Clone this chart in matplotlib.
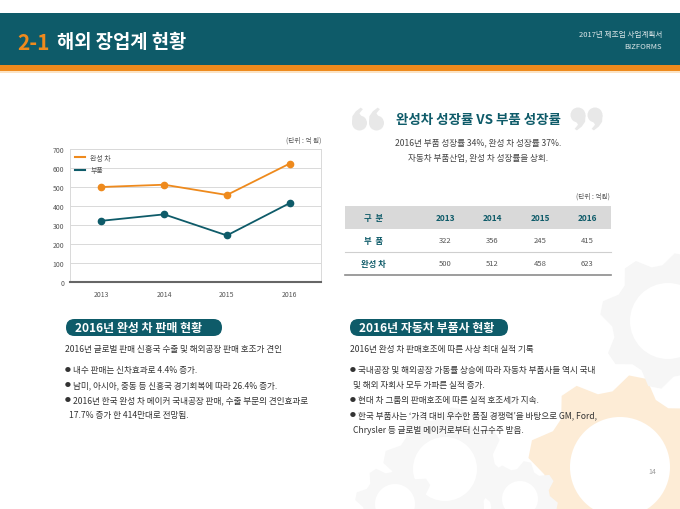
import numpy as np
import matplotlib
matplotlib.use("Agg")
import matplotlib.pyplot as plt
from matplotlib.patches import Rectangle, FancyBboxPatch, Polygon, Circle
from matplotlib.lines import Line2D

plt.rcParams['font.family'] = ['Noto Sans CJK KR', 'DejaVu Sans']

# 데이터
years = ['2013', '2014', '2015', '2016']
parts = [322, 356, 245, 415]        # 부품
finished = [500, 512, 458, 623]     # 완성 차

TEAL = '#0e5b69'
ORANGE = '#ee8a1d'
GRAY_TXT = '#444444'

W, H = 680, 510
fig = plt.figure(figsize=(6.8, 5.1), dpi=100)

# 배경 (픽셀 좌표계)
bg = fig.add_axes([0, 0, 1, 1])
bg.set_xlim(0, W)
bg.set_ylim(H, 0)
bg.axis('off')


def gear(ax, cx, cy, r_out, r_in, r_hole, n, color):
    # 톱니바퀴 모양 (장식용)
    ang = np.linspace(0, 2 * np.pi, n * 4, endpoint=False)
    rr = np.array([r_out, r_out, r_in, r_in] * n)
    ang = ang + np.pi / (4 * n)
    pts = np.column_stack([cx + rr * np.cos(ang), cy + rr * np.sin(ang)])
    ax.add_patch(Polygon(pts, closed=True, color=color, lw=0, zorder=0))
    ax.add_patch(Circle((cx, cy), r_hole, color='white', lw=0, zorder=0))


def quote_mark(ax, cx, cy, r, flip, color):
    # 따옴표 한 획 (원 + 꼬리), flip=True 이면 닫는 따옴표
    s = -1 if flip else 1
    tail = [(-r, 0), (-r * 0.95, -r * 0.9), (-r * 0.5, -r * 1.55),
            (r * 0.15, -r * 2.05), (r * 0.45, -r * 1.85), (0, -r * 1.3), (r * 0.2, -r * 0.95)]
    pts = [(cx + s * dx, cy + s * dy) for dx, dy in tail]
    ax.add_patch(Polygon(pts, closed=True, color=color, lw=0, zorder=1))
    ax.add_patch(Circle((cx, cy), r, color=color, lw=0, zorder=1))


gear(bg, 620, 468, 92, 76, 50, 8, '#fdecd6')
gear(bg, 668, 322, 68, 56, 38, 8, '#f6f6f6')
gear(bg, 445, 470, 62, 50, 32, 8, '#f7f7f7')
gear(bg, 395, 505, 40, 32, 20, 8, '#f7f7f7')
gear(bg, 520, 500, 38, 30, 18, 8, '#f7f7f7')

# 헤더
bg.add_patch(Rectangle((0, 14), W, 52, color=TEAL, lw=0))
bg.add_patch(Rectangle((0, 66), W, 6, color=ORANGE, lw=0))
bg.add_patch(Rectangle((0, 72), W, 2, color='#fbe3c4', lw=0))
bg.text(17, 43, '2-1', color=ORANGE, fontsize=15, fontweight='bold', va='center')
bg.text(57, 43, '해외 장업계 현황', color='white', fontsize=13.5, fontweight='bold', va='center')
bg.text(662, 35, '2017년 제조업 사업계획서', color='#dfe8ea', fontsize=5.5, ha='right', va='center')
bg.text(662, 47, 'BIZFORMS', color='#dfe8ea', fontsize=5.5, ha='right', va='center')

# 오른쪽 상단 제목
QCOL = '#e8e8e8'
quote_mark(bg, 359.5, 124, 7.5, False, QCOL)
quote_mark(bg, 376.5, 124, 7.5, False, QCOL)
quote_mark(bg, 578, 116, 7.5, True, QCOL)
quote_mark(bg, 595, 116, 7.5, True, QCOL)
bg.text(478, 120, '완성차 성장률 VS 부품 성장률', color=TEAL, fontsize=9.7, fontweight='bold',
        ha='center', va='center')
bg.text(478, 143, '2016년 부품 성장률 34%, 완성 차 성장률 37%.', color=GRAY_TXT, fontsize=6.2,
        ha='center', va='center')
bg.text(478, 158, '자동차 부품산업, 완성 차 성장률을 상회.', color=GRAY_TXT, fontsize=6.2,
        ha='center', va='center')

# 표
bg.text(610, 197, '(단위 : 억원)', color='#555555', fontsize=4.8, ha='right', va='center')
tx0, tx1 = 345, 611
bg.add_patch(Rectangle((tx0, 207), tx1 - tx0, 23, color='#d9d9d9', lw=0))
bg.plot([tx0, tx1], [253, 253], color='#cfcfcf', lw=0.8)
bg.plot([tx0, tx1], [276, 276], color='#8c8c8c', lw=1.2)
col_x = [373, 445, 492, 540, 587]
bg.text(col_x[0], 218.5, '구  분', color=TEAL, fontsize=6, fontweight='bold', ha='center', va='center')
for cx, yr in zip(col_x[1:], years):
    bg.text(cx, 218.5, yr, color=TEAL, fontsize=6, fontweight='bold', ha='center', va='center')
bg.text(col_x[0], 241.5, '부  품', color=TEAL, fontsize=6, fontweight='bold', ha='center', va='center')
bg.text(col_x[0], 264.5, '완성 차', color=TEAL, fontsize=6, fontweight='bold', ha='center', va='center')
for cx, p, f in zip(col_x[1:], parts, finished):
    bg.text(cx, 241.5, str(p), color='#555555', fontsize=5.5, ha='center', va='center')
    bg.text(cx, 264.5, str(f), color='#555555', fontsize=5.5, ha='center', va='center')

# 하단 섹션
for x0, w, title in [(66, 156, '2016년 완성 차 판매 현황'), (350, 158, '2016년 자동차 부품사 현황')]:
    bg.add_patch(FancyBboxPatch((x0, 320), w, 17,
                                boxstyle='round,pad=0,rounding_size=8.5',
                                color=TEAL, lw=0))
    bg.text(x0 + 9, 328.5, title, color='white', fontsize=8.6, fontweight='bold', va='center')

# (x, y, 글머리표 여부, 문장)
left_lines = [
    (65, 350, False, '2016년 글로벌 판매 신흥국 수출 및 해외공장 판매 호조가 견인'),
    (65, 371, True, '내수 판매는 신차효과로 4.4% 증가.'),
    (65, 386, True, '남미, 아시아, 중동 등 신흥국 경기회복에 따라 26.4% 증가.'),
    (65, 401, True, '2016년 한국 완성 차 메이커 국내공장 판매, 수출 부문의 견인효과로'),
    (69, 416, False, '17.7% 증가 한 414만대로 전망됨.'),
]
right_lines = [
    (350, 350, False, '2016년 완성 차 판매호조에 따른 사상 최대 실적 기록'),
    (350, 371, True, '국내공장 및 해외공장 가동률 상승에 따라 자동차 부품사들 역시 국내'),
    (353, 386, False, '및 해외 자회사 모두 가파른 실적 증가.'),
    (350, 401, True, '현대 차 그룹의 판매호조에 따른 실적 호조세가 지속.'),
    (350, 416, True, '한국 부품사는 \u2018가격 대비 우수한 품질 경쟁력\u2019을 바탕으로 GM, Ford,'),
    (353, 431, False, 'Chrysler 등 글로벌 메이커로부터 신규수주 받음.'),
]
for x, y, bullet, s in left_lines + right_lines:
    if bullet:
        bg.text(x, y, '●', color='#333333', fontsize=4.3, va='center')
        x += 8
    bg.text(x, y, s, color='#333333', fontsize=6.2, va='center')

bg.text(656, 472, '14', color='#999999', fontsize=5, ha='right', va='center')

# 꺾은선 차트
ax = fig.add_axes([70 / W, 1 - 283 / H, (321 - 70) / W, (283 - 150) / H])
ax.set_facecolor('none')
x = np.arange(len(years))
ax.plot(x, finished, color=ORANGE, lw=1.3, marker='o', ms=4.5, zorder=3)
ax.plot(x, parts, color=TEAL, lw=1.3, marker='o', ms=4.5, zorder=3)
ax.set_xlim(-0.5, 3.5)
ax.set_ylim(0, 700)
ax.set_yticks(range(0, 701, 100))
ax.set_xticks(x)
ax.set_xticklabels(years)
ax.grid(axis='y', color='#d9d9d9', lw=0.7)
ax.set_axisbelow(True)
for s in ['top', 'right', 'left']:
    ax.spines[s].set_color('#d9d9d9')
    ax.spines[s].set_linewidth(0.7)
ax.spines['bottom'].set_color('#666666')
ax.spines['bottom'].set_linewidth(1.5)
ax.tick_params(length=0, labelsize=5, labelcolor='#555555', pad=4)
ax.tick_params(axis='x', pad=6)
handles = [Line2D([], [], color=ORANGE, lw=1.5), Line2D([], [], color=TEAL, lw=1.5)]
ax.legend(handles, ['완성 차', '부품'], loc='upper left', frameon=False, fontsize=5,
          handlelength=1.4, borderaxespad=0.3, labelcolor='#555555', labelspacing=0.6)
bg.text(321, 141, '(단위 : 억 원)', color='#555555', fontsize=4.8, ha='right', va='center')

fig.savefig('out.png', dpi=100)
